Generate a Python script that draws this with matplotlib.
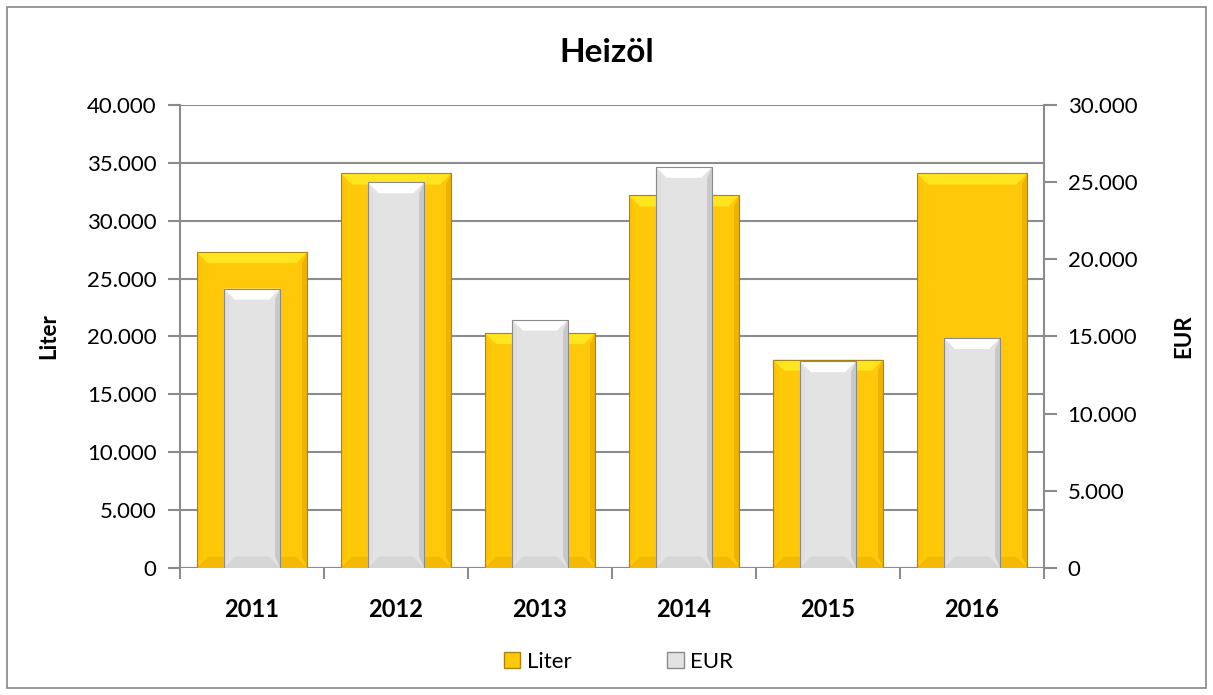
import matplotlib
matplotlib.use("Agg")
import matplotlib.pyplot as plt
from matplotlib.patches import Polygon, Rectangle, Patch
from matplotlib.ticker import FuncFormatter, MultipleLocator
import numpy as np

plt.rcParams['font.family'] = ['Lato', 'DejaVu Sans']

years = ['2011', '2012', '2013', '2014', '2015', '2016']
liter = [27300, 34100, 20300, 32200, 18000, 34100]
eur = [18100, 25000, 16100, 26000, 13400, 14900]

fig = plt.figure(figsize=(12.13, 6.95), dpi=100)
ax = fig.add_axes([0.1484, 0.1832, 0.7123, 0.6653])
ax2 = ax.twinx()

x = np.arange(len(years))
ax.set_xlim(-0.5, len(years) - 0.5)
ax.set_ylim(0, 40000)
ax2.set_ylim(0, 30000)

grid_c = '#8c8c8c'
yellow = dict(main='#FFC90A', top='#FFE520', left='#FCC406', right='#EEB300', bot='#F4BA02', edge='#A88510')
grey = dict(main='#E3E3E3', top='#FFFFFF', left='#DEDEDE', right='#C9C9C9', bot='#D6D6D6', edge='#8A8A8A')

def bevel(axis, bars, col, px=11):
    fig.canvas.draw()
    inv = axis.transData.inverted()
    for b in bars:
        x0, y0 = b.get_x(), b.get_y()
        w, h = b.get_width(), b.get_height()
        (X0, Y0) = axis.transData.transform((x0, y0))
        (X1, Y1) = axis.transData.transform((x0 + w, y0 + h))
        d = min(px, (X1 - X0) / 2, (Y1 - Y0) / 2)
        sd = 5
        polys = [
            ([(X0, Y1), (X1, Y1), (X1 - d, Y1 - d), (X0 + d, Y1 - d)], col['top']),
            ([(X0, Y0), (X1, Y0), (X1 - d, Y0 + d), (X0 + d, Y0 + d)], col['bot']),
            ([(X0, Y0), (X0 + sd, Y0 + d), (X0 + sd, Y1 - d), (X0, Y1)], col['left']),
            ([(X1, Y0), (X1 - sd, Y0 + d), (X1 - sd, Y1 - d), (X1, Y1)], col['right']),
        ]
        for pts, c in polys:
            axis.add_patch(Polygon(inv.transform(pts), closed=True, facecolor=c, edgecolor='none',
                                   zorder=b.get_zorder() + 0.1))
        axis.add_patch(Rectangle((x0, y0), w, h, facecolor='none', edgecolor=col['edge'], lw=0.8,
                                 zorder=b.get_zorder() + 0.2))

ax.set_axisbelow(True)
ax.yaxis.grid(True, color=grid_c, lw=1.5)
bars1 = ax.bar(x, liter, width=0.764, color=yellow['main'], zorder=2)
bars2 = ax2.bar(x, eur, width=0.39, color=grey['main'], zorder=2)

for a in (ax, ax2):
    for s in ('top', 'bottom'):
        a.spines[s].set_visible(False)
ax.spines['right'].set_visible(False)
ax2.spines['left'].set_visible(False)
ax.spines['left'].set_color(grid_c)
ax.spines['left'].set_linewidth(1.5)
ax2.spines['right'].set_color(grid_c)
ax2.spines['right'].set_linewidth(1.5)
ax.axhline(0, color=grid_c, lw=1.5, zorder=1)

fmt = FuncFormatter(lambda v, p: f"{int(v):,}".replace(',', '.'))
ax.yaxis.set_major_locator(MultipleLocator(5000))
ax2.yaxis.set_major_locator(MultipleLocator(5000))
ax.yaxis.set_major_formatter(fmt)
ax2.yaxis.set_major_formatter(fmt)
ax.tick_params(axis='y', length=9, width=1.5, color=grid_c, labelsize=16, pad=8)
ax2.tick_params(axis='y', length=9, width=1.5, color=grid_c, labelsize=16, pad=8)

ax.set_xticks(x)
ax.set_xticklabels(years, fontsize=17, fontweight='bold')
ax.tick_params(axis='x', length=0, pad=22)
ax.set_xticks(np.arange(-0.5, len(years)), minor=True)
ax.tick_params(axis='x', which='minor', length=8, width=1.5, color=grid_c)

ax.set_ylabel('Liter', fontsize=16, fontweight='bold', labelpad=20)
ax2.set_ylabel('EUR', fontsize=16, fontweight='bold', labelpad=26)

fig.text(0.5, 1 - 52 / 695, 'Heizöl', ha='center', va='center', fontsize=24, fontweight='bold')

bevel(ax, bars1, yellow)
bevel(ax2, bars2, grey)

handles = [Patch(facecolor=yellow['main'], edgecolor=yellow['edge']),
           Patch(facecolor=grey['main'], edgecolor=grey['edge'])]
fig.legend(handles, ['Liter', 'EUR'], loc='center', bbox_to_anchor=(0.5 + 12 / 1213, 1 - 662 / 695),
           ncol=2, frameon=False, fontsize=16, handlelength=0.75, handleheight=0.75,
           handletextpad=0.3, columnspacing=4.3)

fig.add_artist(Rectangle((7 / 1213, 7 / 695), 1 - 14 / 1213, 1 - 14 / 695, transform=fig.transFigure,
                         facecolor='none', edgecolor='#868686', lw=1.2))

fig.savefig('out.png', dpi=100)
